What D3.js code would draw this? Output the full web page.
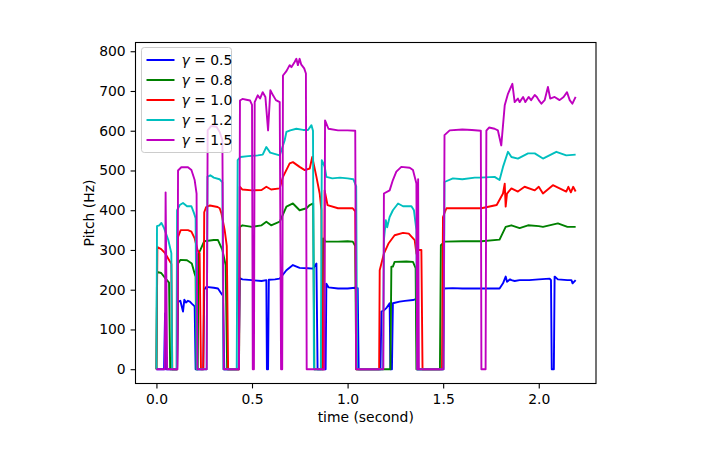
<!DOCTYPE html>
<html>
<head>
<meta charset="utf-8">
<script src="https://cdn.jsdelivr.net/npm/d3@7"></script>
<style>
  body { margin: 0; background: #fff; }
  text { font-family: "DejaVu Sans", sans-serif; }
</style>
</head>
<body>
<div class="area"></div>
<script>

// pitch tracks, [time (s), pitch (Hz)]
var gamma05 = [[0,0],[0.040,0],[0.045,140],[0.050,0],[0.108,0],[0.113,170],[0.125,172],[0.139,145],[0.146,175],[0.155,168],[0.165,172],[0.175,170],[0.185,165],[0.200,158],[0.205,0],[0.245,0],[0.25,200],[0.26,207],[0.30,205],[0.322,203],[0.34,190],[0.348,185],[0.355,0],[0.43,0],[0.436,229],[0.45,226],[0.5,224],[0.55,222],[0.575,224],[0.578,0],[0.584,0],[0.588,225],[0.62,226],[0.645,228],[0.68,249],[0.714,262],[0.749,255],[0.793,254],[0.819,253],[0.837,266],[0.843,0],[0.885,0],[0.889,215],[0.90,206],[0.95,203],[1.0,203],[1.04,205],[1.053,204],[1.058,0],[1.172,0],[1.177,145],[1.19,148],[1.205,155],[1.22,166],[1.224,0],[1.232,0],[1.237,166],[1.272,170],[1.30,172],[1.342,174],[1.36,177],[1.364,0],[1.498,0],[1.505,203],[1.55,204],[1.6,203],[1.7,203],[1.795,203],[1.813,216],[1.827,233],[1.834,220],[1.85,226],[1.857,224],[1.874,222],[1.9,224],[1.95,224],[2.0,226],[2.057,228],[2.064,224],[2.068,0],[2.079,0],[2.083,233],[2.1,226],[2.15,224],[2.171,224],[2.177,216],[2.193,224]];

var gamma08 = [[0,0],[0.003,245],[0.025,242],[0.045,230],[0.066,218],[0.072,0],[0.108,0],[0.113,266],[0.125,275],[0.16,274],[0.185,266],[0.2,240],[0.205,233],[0.209,0],[0.216,0],[0.22,290],[0.23,300],[0.25,322],[0.3,325],[0.322,325],[0.345,300],[0.362,262],[0.37,0],[0.432,0],[0.436,358],[0.45,362],[0.5,358],[0.55,362],[0.575,371],[0.6,362],[0.645,371],[0.68,409],[0.714,417],[0.749,400],[0.785,405],[0.802,413],[0.82,417],[0.826,0],[0.868,0],[0.872,329],[0.885,321],[0.95,321],[1.0,322],[1.027,321],[1.04,310],[1.045,0],[1.224,0],[1.229,258],[1.237,258],[1.246,270],[1.308,271],[1.342,270],[1.356,254],[1.36,0],[1.483,0],[1.488,312],[1.508,321],[1.6,322],[1.7,322],[1.795,326],[1.827,358],[1.857,362],[1.9,355],[1.944,362],[2.0,360],[2.022,358],[2.1,367],[2.15,358],[2.193,358]];

var gamma10 = [[0,0],[0.005,307],[0.025,302],[0.045,292],[0.066,275],[0.078,265],[0.083,0],[0.108,0],[0.113,333],[0.127,350],[0.165,350],[0.183,346],[0.2,329],[0.215,300],[0.226,291],[0.233,0],[0.245,0],[0.25,395],[0.26,408],[0.28,412],[0.32,408],[0.331,405],[0.34,392],[0.357,350],[0.368,310],[0.375,0],[0.432,0],[0.436,459],[0.45,452],[0.5,450],[0.55,451],[0.575,459],[0.6,452],[0.645,455],[0.662,484],[0.697,518],[0.714,521],[0.749,509],[0.776,501],[0.802,505],[0.815,534],[0.837,484],[0.854,442],[0.863,400],[0.869,0],[0.877,0],[0.88,450],[0.895,413],[0.95,405],[1.0,405],[1.027,405],[1.04,397],[1.047,0],[1.165,0],[1.168,249],[1.19,291],[1.215,317],[1.246,337],[1.29,343],[1.32,341],[1.351,325],[1.36,291],[1.368,300],[1.386,300],[1.392,0],[1.494,0],[1.499,383],[1.517,405],[1.6,405],[1.7,405],[1.78,413],[1.813,442],[1.822,467],[1.827,409],[1.834,442],[1.857,455],[1.891,447],[1.926,459],[1.979,450],[2.0,459],[2.022,442],[2.074,463],[2.109,455],[2.144,447],[2.155,459],[2.168,445],[2.18,459],[2.193,447]];

var gamma12 = [[0,0],[0.003,360],[0.015,362],[0.026,368],[0.04,355],[0.062,325],[0.078,292],[0.082,0],[0.105,0],[0.108,400],[0.122,413],[0.139,418],[0.16,410],[0.183,410],[0.197,392],[0.205,380],[0.21,0],[0.263,0],[0.267,484],[0.282,488],[0.3,482],[0.33,478],[0.345,470],[0.35,0],[0.42,0],[0.425,526],[0.44,534],[0.48,536],[0.53,538],[0.556,540],[0.575,559],[0.595,545],[0.645,538],[0.671,576],[0.68,597],[0.7,601],[0.732,605],[0.767,602],[0.793,602],[0.811,614],[0.819,600],[0.824,0],[0.86,0],[0.865,526],[0.88,510],[0.889,484],[0.92,480],[0.96,482],[1.0,480],[1.03,478],[1.045,460],[1.05,0],[1.185,0],[1.19,325],[1.2,375],[1.207,357],[1.22,383],[1.237,400],[1.264,417],[1.29,410],[1.334,410],[1.347,400],[1.36,350],[1.364,0],[1.502,0],[1.507,471],[1.551,480],[1.6,478],[1.665,482],[1.691,482],[1.769,484],[1.795,476],[1.813,509],[1.839,547],[1.857,534],[1.891,530],[1.944,543],[1.979,543],[2.022,530],[2.092,547],[2.144,538],[2.193,540]];

var gamma15 = [[0,0],[0.044,0],[0.048,445],[0.056,0],[0.110,0],[0.113,500],[0.13,508],[0.165,508],[0.183,501],[0.2,476],[0.21,442],[0.214,0],[0.263,0],[0.268,601],[0.287,612],[0.314,610],[0.331,597],[0.345,576],[0.352,0],[0.432,0],[0.437,676],[0.45,680],[0.47,678],[0.49,676],[0.5,665],[0.504,0],[0.51,0],[0.514,672],[0.53,689],[0.542,681],[0.556,697],[0.57,685],[0.584,601],[0.596,702],[0.61,689],[0.625,677],[0.645,672],[0.652,0],[0.658,0],[0.662,739],[0.68,750],[0.697,765],[0.706,760],[0.723,773],[0.732,781],[0.74,765],[0.749,781],[0.757,767],[0.773,757],[0.782,744],[0.786,0],[0.878,0],[0.882,626],[0.9,605],[0.95,601],[1.0,601],[1.04,600],[1.045,0],[1.187,0],[1.19,442],[1.22,450],[1.237,476],[1.255,497],[1.281,509],[1.325,507],[1.342,501],[1.36,467],[1.364,0],[1.366,0],[1.369,478],[1.373,0],[1.502,0],[1.507,589],[1.534,601],[1.6,603],[1.65,602],[1.697,600],[1.70,0],[1.722,0],[1.726,600],[1.74,608],[1.769,605],[1.786,601],[1.804,563],[1.822,664],[1.839,693],[1.862,718],[1.874,672],[1.891,681],[1.9,672],[1.918,685],[1.93,672],[1.947,685],[1.96,677],[1.979,690],[1.99,685],[2.0,677],[2.014,668],[2.031,677],[2.048,710],[2.06,681],[2.083,685],[2.109,677],[2.13,685],[2.148,697],[2.162,677],[2.176,668],[2.193,685]];

var series = [gamma05, gamma08, gamma10, gamma12, gamma15];
var labels = ["0.5", "0.8", "1.0", "1.2", "1.5"];
var colors = ["#0000ff", "#008000", "#ff0000", "#00bfbf", "#bf00bf"];
var xTicks = [0.0, 0.5, 1.0, 1.5, 2.0];
var yTicks = [0, 100, 200, 300, 400, 500, 600, 700, 800];

var W = 706, H = 450;
var margin = {top: 42.5, right: 110, bottom: 66.5, left: 135.5},
    width = W - margin.left - margin.right,
    height = H - margin.top - margin.bottom;

var svg = d3.select(".area")
  .append("svg")
    .attr("width", W)
    .attr("height", H);

svg.append("rect").attr("width", W).attr("height", H).attr("fill", "#fff");

var plot = svg.append("g")
    .attr("transform", "translate(" + margin.left + "," + margin.top + ")");

var x = d3.scaleLinear().domain([-0.1095, 2.2995]).range([0, width]);
var y = d3.scaleLinear().domain([-36, 822]).range([height, 0]);

plot.append("clipPath").attr("id", "clip")
  .append("rect").attr("width", width).attr("height", height);

var line = d3.line()
  .x(function(d) { return x(d[0]); })
  .y(function(d) { return y(d[1]); });

plot.append("g").attr("clip-path", "url(#clip)")
  .selectAll("path")
  .data(series)
  .enter()
  .append("path")
    .attr("fill", "none")
    .attr("stroke", function(d, i) { return colors[i]; })
    .attr("stroke-width", 1.9)
    .attr("stroke-linejoin", "round")
    .attr("d", line);

// axes
var xAxis = plot.append("g")
  .attr("transform", "translate(0," + height + ")")
  .call(d3.axisBottom(x).tickValues(xTicks).tickFormat(d3.format(".1f")).tickSize(4.9).tickPadding(5.5));
var yAxis = plot.append("g")
  .call(d3.axisLeft(y).tickValues(yTicks).tickFormat(d3.format("d")).tickSize(4.9).tickPadding(4.9));

[xAxis, yAxis].forEach(function(a) {
  a.select(".domain").remove();
  a.selectAll("line").attr("stroke", "#000").attr("stroke-width", 1.1);
  a.selectAll("text").attr("fill", "#000").style("font-size", "13.9px").style("font-family", "DejaVu Sans");
});

plot.append("rect")
  .attr("width", width).attr("height", height)
  .attr("fill", "none").attr("stroke", "#000").attr("stroke-width", 1.1);

svg.append("text")
  .attr("x", margin.left + width / 2).attr("y", 422)
  .attr("text-anchor", "middle").style("font-size", "13.9px")
  .text("time (second)");

svg.append("text")
  .attr("transform", "translate(94," + (margin.top + height / 2) + ") rotate(-90)")
  .attr("text-anchor", "middle").style("font-size", "13.9px")
  .text("Pitch (Hz)");

// legend
var legend = svg.append("g").attr("transform", "translate(141.5,47.5)");
legend.append("rect")
  .attr("width", 90).attr("height", 105).attr("rx", 2.8)
  .attr("fill", "#fff").attr("fill-opacity", 0.8)
  .attr("stroke", "#cccccc").attr("stroke-width", 1);

var rows = legend.selectAll("g.row")
  .data(labels)
  .enter()
  .append("g")
    .attr("class", "row")
    .attr("transform", function(d, i) { return "translate(0," + (12.5 + i * 20) + ")"; });

rows.append("line")
  .attr("x1", 5).attr("x2", 33)
  .attr("stroke", function(d, i) { return colors[i]; })
  .attr("stroke-width", 2);

var lt = rows.append("text")
  .attr("x", 40).attr("y", 5)
  .style("font-size", "13.9px");
lt.append("tspan").style("font-style", "italic").text("γ");
lt.append("tspan").text(function(d) { return " = " + d; });

</script>
</body>
</html>
